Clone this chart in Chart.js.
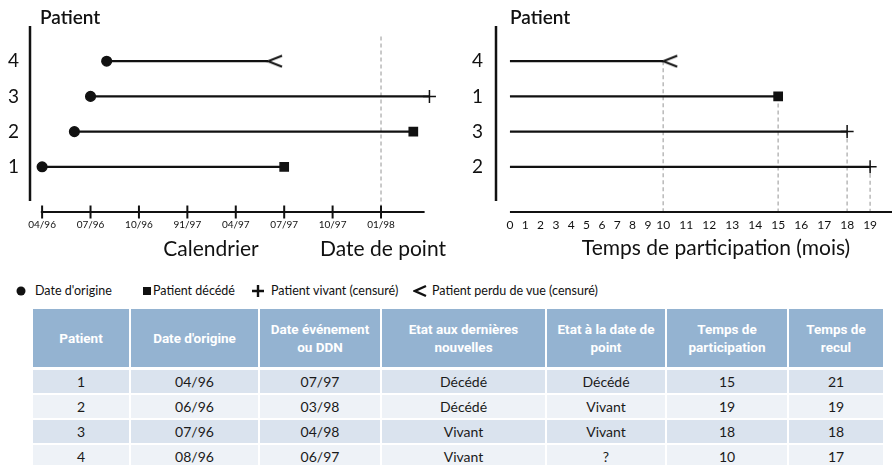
<!DOCTYPE html>
<html>
<head>
<meta charset="utf-8">
<script src="https://cdn.jsdelivr.net/npm/chart.js@4/dist/chart.umd.min.js"></script>
<style>
body { margin: 0; background: #fff; width: 892px; height: 465px; overflow: hidden; position: relative; font-family: Lato, "Open Sans", sans-serif; color: #111; }
canvas { position: absolute; top: 0; }
#cal { left: 0; }
#part { left: 450px; }
.leg { position: absolute; top: 284px; font-size: 12.5px; line-height: 14px; white-space: nowrap; }
.sym { position: absolute; top: 284px; height: 14px; }
#tbl { position: absolute; left: 33px; top: 309px; display: grid; grid-template-columns: 96px 127px 120px 163px 118px 120px 94px; grid-template-rows: 59px 23px 23px 23px 23px; column-gap: 2px; row-gap: 2px; }
#tbl div { display: flex; align-items: center; justify-content: center; text-align: center; }
#tbl .h { background: #94b3d1; color: #fff; font: 700 13.5px Roboto, sans-serif; line-height: 18px; margin-bottom: 1px; }
#tbl .c { font-size: 14px; color: #1a1a1a; }
#tbl .r0 { background: #dae3ee; }
#tbl .r1 { background: #eef2f7; }
</style>
</head>
<body>
<canvas id="cal" width="450" height="262"></canvas>
<canvas id="part" width="442" height="262"></canvas>

<svg class="sym" style="left:16px" width="10" height="14"><circle cx="5" cy="7" r="4.5" fill="#111"/></svg>
<span class="leg" style="left:35px">Date d'origine</span>
<svg class="sym" style="left:142px" width="10" height="14"><rect x="1" y="3" width="8" height="8" fill="#111"/></svg>
<span class="leg" style="left:153px">Patient décédé</span>
<svg class="sym" style="left:251px" width="14" height="14"><path d="M7 1V13M1 7H13" stroke="#111" stroke-width="2.4"/></svg>
<span class="leg" style="left:271px">Patient vivant (censuré)</span>
<svg class="sym" style="left:413px" width="14" height="14"><path d="M13 2L2 7L13 12" stroke="#111" stroke-width="2.4" fill="none"/></svg>
<span class="leg" style="left:432px">Patient perdu de vue (censuré)</span>

<div id="tbl"></div>

<script>
const patients = ['1', '2', '3', '4'];
const dateOrigine = ['04/96', '06/96', '07/96', '08/96'];
const dateEvenement = ['07/97', '03/98', '04/98', '06/97'];
const etatDernieres = ['Décédé', 'Décédé', 'Vivant', 'Vivant'];
const etatPoint = ['Décédé', 'Vivant', 'Vivant', '?'];
const tempsParticipation = [15, 19, 18, 10];
const tempsRecul = [21, 19, 18, 17];
const finCalendrier = ['rect', 'rect', 'cross', 'perdu'];
const finParticipation = ['rect', 'cross', 'cross', 'perdu'];
const ordreParticipation = ['2', '3', '1', '4']; // bas -> haut
const datePoint = '01/98';
const calendrierMois = [0, 3, 6, 9, 12, 15, 18, 21];
const calendrierTicks = ['04/96', '07/96', '10/96', '91/97', '04/97', '07/97', '10/97', '01/98'];
const participationTicks = [0, 1, 2, 3, 4, 5, 6, 7, 8, 9, 10, 11, 12, 13, 14, 15, 16, 17, 18, 19];
const headers = ['Patient', "Date d'origine", 'Date événement<br>ou DDN', 'Etat aux dernières<br>nouvelles', 'Etat à la date de<br>point', 'Temps de<br>participation', 'Temps de<br>recul'];

// mois depuis 04/96
function mois(s) {
    const [m, y] = s.split('/').map(Number);
    return (y - 96) * 12 + (m - 4);
}

function chevron() {
    const c = document.createElement('canvas');
    c.width = 30; c.height = 14;
    const g = c.getContext('2d');
    g.strokeStyle = '#111'; g.lineWidth = 2;
    g.beginPath(); g.moveTo(29, 1.5); g.lineTo(15, 7); g.lineTo(29, 12.5); g.stroke();
    return c;
}
const chevronImg = chevron();

function marker(kind) {
    if (kind === 'perdu') return [chevronImg, 7];
    if (kind === 'cross') return ['cross', 6.5];
    return ['rect', 5.8];
}

// axe "temps" : les nombres a deux chiffres prennent plus de place
class PackedScale extends Chart.LinearScale {
    static id = 'packed';
    warp(v) { return v <= 10 ? v : 10 + 1.5 * (v - 10); }
    getPixelForValue(v) {
        const a = this.warp(this.min), b = this.warp(this.max);
        return this.getPixelForDecimal((this.warp(v) - a) / (b - a));
    }
    getValueForPixel(p) {
        const a = this.warp(this.min), b = this.warp(this.max);
        const u = a + this.getDecimalForPixel(p) * (b - a);
        return u <= 10 ? u : 10 + (u - 10) / 1.5;
    }
}
Chart.register(PackedScale);

// axes, reperes pointilles et titres (config gardee hors des options)
function axesPlugin(o) {
    return {
        id: 'axes',
        beforeDatasetsDraw(chart) {
            const ctx = chart.ctx, xs = chart.scales.x, ys = chart.scales.y;
            const axisY = chart.chartArea.bottom + o.axisGap;
            ctx.save();
            ctx.strokeStyle = '#bdbdbd'; ctx.lineWidth = 1.6; ctx.setLineDash([4, 3]);
            o.guides.forEach(g => {
                const x = xs.getPixelForValue(g.x);
                ctx.beginPath(); ctx.moveTo(x, ys.getPixelForValue(g.y)); ctx.lineTo(x, axisY); ctx.stroke();
            });
            ctx.restore();
        },
        afterDraw(chart) {
            const ctx = chart.ctx, xs = chart.scales.x, ca = chart.chartArea;
            const axisY = ca.bottom + o.axisGap;
            ctx.save();
            ctx.strokeStyle = '#111'; ctx.lineWidth = 2.5;
            ctx.beginPath(); ctx.moveTo(ca.left, ca.top); ctx.lineTo(ca.left, ca.bottom - 1); ctx.stroke();
            ctx.lineWidth = 2.2;
            ctx.beginPath();
            ctx.moveTo(xs.getPixelForValue(o.axisFrom), axisY);
            ctx.lineTo(Math.min(xs.getPixelForValue(o.axisTo), chart.width), axisY);
            ctx.stroke();
            if (o.tickMarks) {
                ctx.lineWidth = 2;
                o.tickMarks.forEach(v => {
                    const x = xs.getPixelForValue(v);
                    ctx.beginPath(); ctx.moveTo(x, axisY - 6.5); ctx.lineTo(x, axisY + 6.5); ctx.stroke();
                });
            }
            ctx.fillStyle = '#111'; ctx.textBaseline = 'middle';
            o.titles.forEach(t => {
                ctx.font = t.font; ctx.textAlign = t.align;
                ctx.fillText(t.text, t.x, t.y);
            });
            ctx.restore();
        }
    };
}

function yScale(width, pad, labelFor) {
    return {
        min: 0, max: 5,
        afterBuildTicks: s => { s.ticks = patients.map((p, i) => ({ value: i + 1 })); },
        ticks: { callback: v => labelFor(v), font: { family: 'Lato', size: 19 }, color: '#111', padding: pad },
        grid: { display: false, drawTicks: false },
        border: { display: false },
        afterFit: s => { s.width = width; s.paddingTop = 0; s.paddingBottom = 0; }
    };
}

function common(scales) {
    return {
        responsive: false, devicePixelRatio: 1, animation: false,
        layout: { padding: { top: 26, right: 12, left: 0, bottom: 0 } },
        plugins: { legend: { display: false }, tooltip: { enabled: false } },
        scales: scales
    };
}

// calendrier
const calSets = patients.map((p, i) => {
    const [st, r] = marker(finCalendrier[i]);
    return {
        data: [{ x: mois(dateOrigine[i]), y: i + 1 }, { x: mois(dateEvenement[i]), y: i + 1 }],
        borderColor: '#111', borderWidth: 2.2,
        pointStyle: ['circle', st], pointRadius: [4.8, r],
        pointBackgroundColor: '#111', pointBorderColor: '#111', pointBorderWidth: 1.5,
        clip: false
    };
});

new Chart(document.getElementById('cal'), {
    type: 'line',
    data: { datasets: calSets },
    options: common({
        x: {
            type: 'linear', min: -0.75, max: 24.53,
            afterBuildTicks: s => { s.ticks = calendrierMois.map(v => ({ value: v })); },
            ticks: { callback: (v, i) => calendrierTicks[i], font: { family: 'Lato', size: 10 }, color: '#111', padding: 17, maxRotation: 0, autoSkip: false },
            grid: { display: false, drawTicks: false },
            border: { display: false },
            afterFit: s => { s.height = 60; s.paddingLeft = 0; s.paddingRight = 0; }
        },
        y: yScale(30, 11, v => patients[v - 1])
    }),
    plugins: [axesPlugin({
        axisGap: 10, axisFrom: -0.08, axisTo: 23.7, tickMarks: calendrierMois,
        guides: [{ x: mois(datePoint), y: 4.7 }],
        titles: [
            { text: 'Patient', x: 40, y: 18, align: 'left', font: '600 19px Lato' },
            { text: 'Calendrier', x: 211, y: 249, align: 'center', font: '21px Lato' },
            { text: 'Date de point', x: 383, y: 249, align: 'center', font: '21px Lato' }
        ]
    })]
});

// temps de participation
const partSets = ordreParticipation.map((p, k) => {
    const i = patients.indexOf(p);
    const [st, r] = marker(finParticipation[i]);
    return {
        data: [{ x: 0, y: k + 1 }, { x: tempsParticipation[i], y: k + 1 }],
        borderColor: '#111', borderWidth: 2.2,
        pointStyle: ['circle', st], pointRadius: [0, r],
        pointBackgroundColor: '#111', pointBorderColor: '#111', pointBorderWidth: 1.5,
        clip: false
    };
});

new Chart(document.getElementById('part'), {
    type: 'line',
    data: { datasets: partSets },
    options: common({
        x: {
            type: 'packed', min: -0.91, max: 19.43,
            afterBuildTicks: s => { s.ticks = participationTicks.map(v => ({ value: v })); },
            ticks: { callback: (v, i) => String(participationTicks[i]), font: { family: 'Lato', size: 12 }, color: '#111', padding: 16, maxRotation: 0, autoSkip: false },
            grid: { display: false, drawTicks: false },
            border: { display: false },
            afterFit: s => { s.height = 60; s.paddingLeft = 0; s.paddingRight = 0; }
        },
        y: yScale(46, 13, v => ordreParticipation[v - 1])
    }),
    plugins: [axesPlugin({
        axisGap: 10, axisFrom: 0, axisTo: 30,
        guides: ordreParticipation.map((p, k) => ({ x: tempsParticipation[patients.indexOf(p)], y: k + 1 })),
        titles: [
            { text: 'Patient', x: 60, y: 18, align: 'left', font: '600 19px Lato' },
            { text: 'Temps de participation (mois)', x: 266, y: 248, align: 'center', font: '21px Lato' }
        ]
    })]
});

// tableau
const tbl = document.getElementById('tbl');
let html = headers.map(h => `<div class="h">${h}</div>`).join('');
patients.forEach((p, i) => {
    const row = [p, dateOrigine[i], dateEvenement[i], etatDernieres[i], etatPoint[i], tempsParticipation[i], tempsRecul[i]];
    html += row.map(v => `<div class="c r${i % 2}">${v}</div>`).join('');
});
tbl.innerHTML = html;
</script>
</body>
</html>
